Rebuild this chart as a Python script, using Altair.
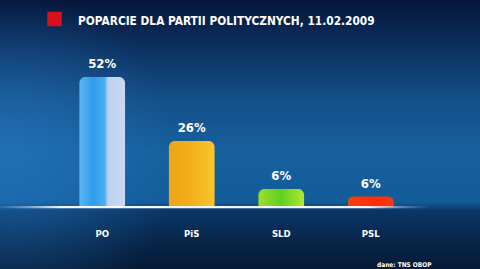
import altair as alt
import pandas as pd

# ---- data ----
parties = ["PO", "PiS", "SLD", "PSL"]
bar_heights = [52, 26.4, 7.2, 4.2]          # drawn heights
value_labels = ["52%", "26%", "6%", "6%"]
title_text = "POPARCIE DLA PARTII POLITYCZNYCH, 11.02.2009"
source_text = "dane: TNS OBOP"

df = pd.DataFrame({"party": parties, "h": bar_heights, "lab": value_labels})

W, H = 480, 269
FONT = "DejaVu Sans Condensed, Roboto Condensed, Roboto, sans-serif"

xscale = alt.Scale(domain=parties, range=[57, 416], paddingInner=0.49, paddingOuter=0.25)
yscale = alt.Scale(domain=[-24.8, 82.8], range=[H, 0], nice=False, zero=False)
hidden = dict(title=None, labels=False, ticks=False, domain=False, grid=False)

bg_linear = {
    "gradient": "linear", "x1": 0, "y1": 0, "x2": 0, "y2": 1,
    "stops": [
        {"offset": 0.0, "color": "#05163a"},
        {"offset": 0.14, "color": "#0b2b58"},
        {"offset": 0.37, "color": "#144f88"},
        {"offset": 0.56, "color": "#16609e"},
        {"offset": 0.75, "color": "#135c9a"},
        {"offset": 0.785, "color": "#0a3566"},
        {"offset": 0.9, "color": "#072548"},
        {"offset": 1.0, "color": "#051a36"},
    ],
}
bg_radial = {
    "gradient": "radial", "x1": 0.02, "y1": 0.55, "r1": 0, "x2": 0.02, "y2": 0.55, "r2": 0.35,
    "stops": [
        {"offset": 0.0, "color": "rgba(40,125,200,0.55)"},
        {"offset": 1.0, "color": "rgba(40,125,200,0)"},
    ],
}

base = alt.Chart(df)
one = alt.datum.party == "PO"

bg1 = base.mark_rect(fill=bg_linear).encode(
    x=alt.value(0), x2=alt.value(W), y=alt.value(0), y2=alt.value(H)
).transform_filter(one)
bg2 = base.mark_rect(fill=bg_radial).encode(
    x=alt.value(0), x2=alt.value(W), y=alt.value(0), y2=alt.value(H)
).transform_filter(one)

bar_fills = {
    "PO": [("#5ab6f4", 0), ("#2f9ceb", 0.3), ("#48aef0", 0.55), ("#bcd2f0", 0.63), ("#cad8f2", 1)],
    "PiS": [("#eea414", 0), ("#f3b01a", 0.5), ("#f9c62c", 1)],
    "SLD": [("#9ede2e", 0), ("#5fd020", 0.5), ("#b4e632", 1)],
    "PSL": [("#f04012", 0), ("#ff2c0c", 0.6), ("#f43a14", 1)],
}

layers = [bg1, bg2]
for p in parties:
    grad = {
        "gradient": "linear", "x1": 0, "y1": 0, "x2": 1, "y2": 0,
        "stops": [{"offset": o, "color": c} for c, o in bar_fills[p]],
    }
    layers.append(
        base.transform_filter(alt.datum.party == p)
        .mark_bar(fill=grad, cornerRadiusTopLeft=6, cornerRadiusTopRight=6)
        .encode(
            x=alt.X("party:N", scale=xscale, sort=parties, axis=alt.Axis(**hidden)),
            y=alt.Y("h:Q", scale=yscale, axis=alt.Axis(**hidden)),
            y2=alt.datum(0),
        )
    )

line_grad = {
    "gradient": "linear", "x1": 0, "y1": 0, "x2": 1, "y2": 0,
    "stops": [
        {"offset": 0.0, "color": "rgba(150,200,240,0.15)"},
        {"offset": 0.14, "color": "rgba(255,255,255,0.95)"},
        {"offset": 0.86, "color": "rgba(255,255,255,0.95)"},
        {"offset": 1.0, "color": "rgba(120,180,230,0)"},
    ],
}
baseline = base.mark_rect(fill=line_grad).encode(
    x=alt.value(0), x2=alt.value(430),
    y=alt.datum(0.4, scale=yscale), y2=alt.datum(-0.5),
).transform_filter(one)

values = base.mark_text(
    font=FONT, fontWeight="bold", fontSize=13, color="white", baseline="alphabetic", dy=-9
).encode(
    x=alt.X("party:N", scale=xscale, sort=parties, axis=alt.Axis(**hidden)),
    y=alt.Y("h:Q", scale=yscale, axis=alt.Axis(**hidden)),
    text="lab:N",
)

cats = base.mark_text(
    font=FONT, fontWeight="bold", fontSize=9.5, color="white", baseline="alphabetic"
).encode(
    x=alt.X("party:N", scale=xscale, sort=parties, axis=alt.Axis(**hidden)),
    y=alt.value(236.5),
    text="party:N",
)

square = base.mark_square(size=210, color="#d8101e", opacity=1).encode(
    x=alt.value(54.5), y=alt.value(19)
).transform_filter(one)

title = base.mark_text(
    font=FONT, fontWeight="bold", fontSize=11.8, color="white", align="left", baseline="alphabetic"
).encode(
    x=alt.value(78), y=alt.value(25), text=alt.value(title_text)
).transform_filter(one)

source = base.mark_text(
    font=FONT, fontWeight="bold", fontSize=6.5, color="white", align="left", baseline="alphabetic"
).encode(
    x=alt.value(377), y=alt.value(267), text=alt.value(source_text)
).transform_filter(one)

layers += [baseline, values, cats, square, title, source]

chart = alt.layer(*layers).properties(
    width=W, height=H, autosize=alt.AutoSizeParams(type="none"), padding=0,
    background="#051a36",
).configure_view(stroke=None)

chart.save("out.html", embed_options={"renderer": "svg", "actions": False})
